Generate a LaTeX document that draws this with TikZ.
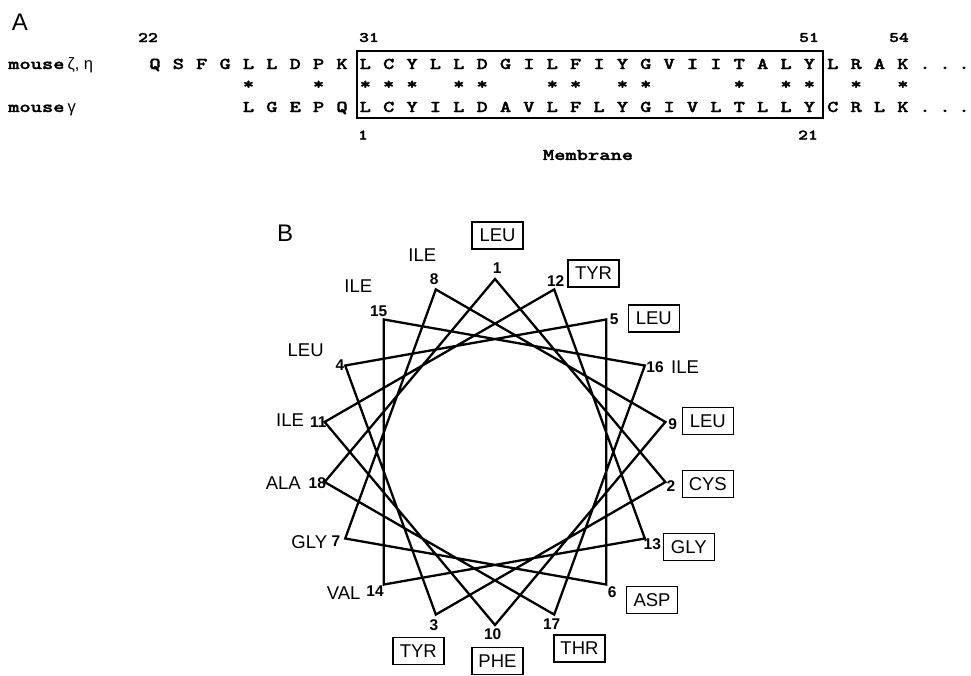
\documentclass[tikz,border=0pt]{standalone}
\usepackage{fontspec}
\usepackage{graphicx}
\setmainfont{Liberation Sans}
\newfontfamily\greekfont{Liberation Sans}
\newfontfamily\seqfont{lmmonolt10-bold.otf}[FakeBold=1.6]
\usetikzlibrary{calc}
% heavy typewriter text, widened to Courier proportions
\newcommand\sq[1]{\scalebox{1.3}[1]{\seqfont #1}}
\begin{document}
\begin{tikzpicture}[x=1pt,y=-1pt,
  seqch/.style={inner sep=0pt, anchor=base, font=\fontsize{16.5}{18}\selectfont},
  starch/.style={inner sep=0pt, font=\fontsize{16.5}{18}\selectfont},
  seqnum/.style={inner sep=0pt, font=\fontsize{14.5}{16}\selectfont},
  rowlabel/.style={inner sep=0pt, anchor=base west, font=\fontsize{16.5}{18}\selectfont},
  panel/.style={inner sep=0pt, font=\fontsize{24}{26}\selectfont},
  tmbox/.style={line width=1.8pt},
  wheel/.style={line width=2.3pt, line join=miter},
  wnum/.style={inner sep=0pt, font=\fontsize{15.5}{16}\selectfont\bfseries},
  res/.style={inner sep=0pt, font=\fontsize{18.5}{20}\selectfont},
  resbox/.style={res, draw, line width=1.5pt, minimum width=51pt, minimum height=27pt}]
\useasboundingbox (0,0) rectangle (971,675);

% ---------------- panel A: sequence alignment ----------------
\node[panel] (labA) at (20,22) {A};

\node[rowlabel] (zname) at (8,69) {\sq{mouse}\hspace{3pt}{\greekfont ζ, η}};
\node[rowlabel] (gname) at (8,112) {\sq{mouse}\hspace{3pt}{\greekfont γ}};

\foreach \ch [count=\i from 0] in {Q,S,F,G,L,L,D,P,K,L,C,Y,L,L,D,G,I,L,F,I,Y,G,V,I,I,T,A,L,Y,L,R,A,K}
  \node[seqch] (z\i) at (155+23.37*\i,69) {\sq{\ch}};
\foreach \ch [count=\i from 4] in {L,G,E,P,Q,L,C,Y,I,L,D,A,V,L,F,L,Y,G,I,V,L,T,L,L,Y,C,R,L,K}
  \node[seqch] (g\i) at (155+23.37*\i,112) {\sq{\ch}};
\foreach \x [count=\j] in {925,945,964} {
  \node[seqch] (zd\j) at (\x,69) {\sq{.}};
  \node[seqch] (gd\j) at (\x,112) {\sq{.}};
}
\foreach \i in {4,7,9,10,11,13,14,17,18,20,21,25,27,28,30,32}
  \node[starch] (s\i) at (155+23.37*\i,85) {\sq{*}};

% transmembrane segment
\coordinate (tmA) at (356.7,51);
\coordinate (tmB) at (822.7,118.3);
\draw[tmbox] (tmA) rectangle (tmB);

\node[seqnum] (p22) at (148,37.5) {\sq{22}};
\node[seqnum] (p31) at (369,37.5) {\sq{31}};
\node[seqnum] (p51) at (809,37.5) {\sq{51}};
\node[seqnum] (p54) at (899,37.5) {\sq{54}};
\node[seqnum] (q1) at (363,135) {\sq{1}};
\node[seqnum] (q21) at (808,135) {\sq{21}};
\node[seqch, anchor=center] (memb) at (588,155) {\sq{Membrane}};

% ---------------- panel B: helical wheel ----------------
\node[panel] (labB) at (285,233) {B};

\coordinate (c) at (495,452);
\foreach \k in {1,...,18}
  \coordinate (v\k) at ($(c)+({100*(\k-1)-90}:173)$);
\draw[wheel] (v1) -- (v2) -- (v3) -- (v4) -- (v5) -- (v6) -- (v7) -- (v8) -- (v9)
  -- (v10) -- (v11) -- (v12) -- (v13) -- (v14) -- (v15) -- (v16) -- (v17) -- (v18) -- cycle;

% residue numbers
\node[wnum] (n1)  at (497.3,268.3) {1};
\node[wnum] (n2)  at (671,486) {2};
\node[wnum] (n3)  at (434,625) {3};
\node[wnum] (n4)  at (340,365) {4};
\node[wnum] (n5)  at (614.3,319) {5};
\node[wnum] (n6)  at (612.3,591.7) {6};
\node[wnum] (n7)  at (336,540.7) {7};
\node[wnum] (n8)  at (434.3,279.3) {8};
\node[wnum] (n9)  at (672.7,424.3) {9};
\node[wnum] (n10) at (492.7,634) {10};
\node[wnum] (n11) at (318.3,421.7) {11};
\node[wnum] (n12) at (555.7,281) {12};
\node[wnum] (n13) at (652.3,544) {13};
\node[wnum] (n14) at (375,590.7) {14};
\node[wnum] (n15) at (378.7,311.7) {15};
\node[wnum] (n16) at (655,366.7) {16};
\node[wnum] (n17) at (551.7,624.3) {17};
\node[wnum] (n18) at (317.3,483.3) {18};

% residue names
\node[resbox] (r1)  at (497.5,235.5) {LEU};
\node[resbox] (r2)  at (707.8,484) {CYS};
\node[resbox] (r3)  at (418.3,651) {TYR};
\node[res]    (r4)  at (305.7,350) {LEU};
\node[resbox] (r5)  at (653.8,318.5) {LEU};
\node[resbox] (r6)  at (652,600) {ASP};
\node[res]    (r7)  at (309.3,541.7) {GLY};
\node[res]    (r8)  at (422.3,255) {ILE};
\node[resbox] (r9)  at (707.8,421) {LEU};
\node[resbox] (r10) at (497.5,661) {PHE};
\node[res]    (r11) at (290,420) {ILE};
\node[resbox] (r12) at (593.5,273.5) {TYR};
\node[resbox] (r13) at (688.8,547) {GLY};
\node[res]    (r14) at (343.7,593.3) {VAL};
\node[res]    (r15) at (358.3,286) {ILE};
\node[res]    (r16) at (685,366.7) {ILE};
\node[resbox] (r17) at (579.5,648.5) {THR};
\node[res]    (r18) at (283.3,483.3) {ALA};
\end{tikzpicture}
\end{document}
